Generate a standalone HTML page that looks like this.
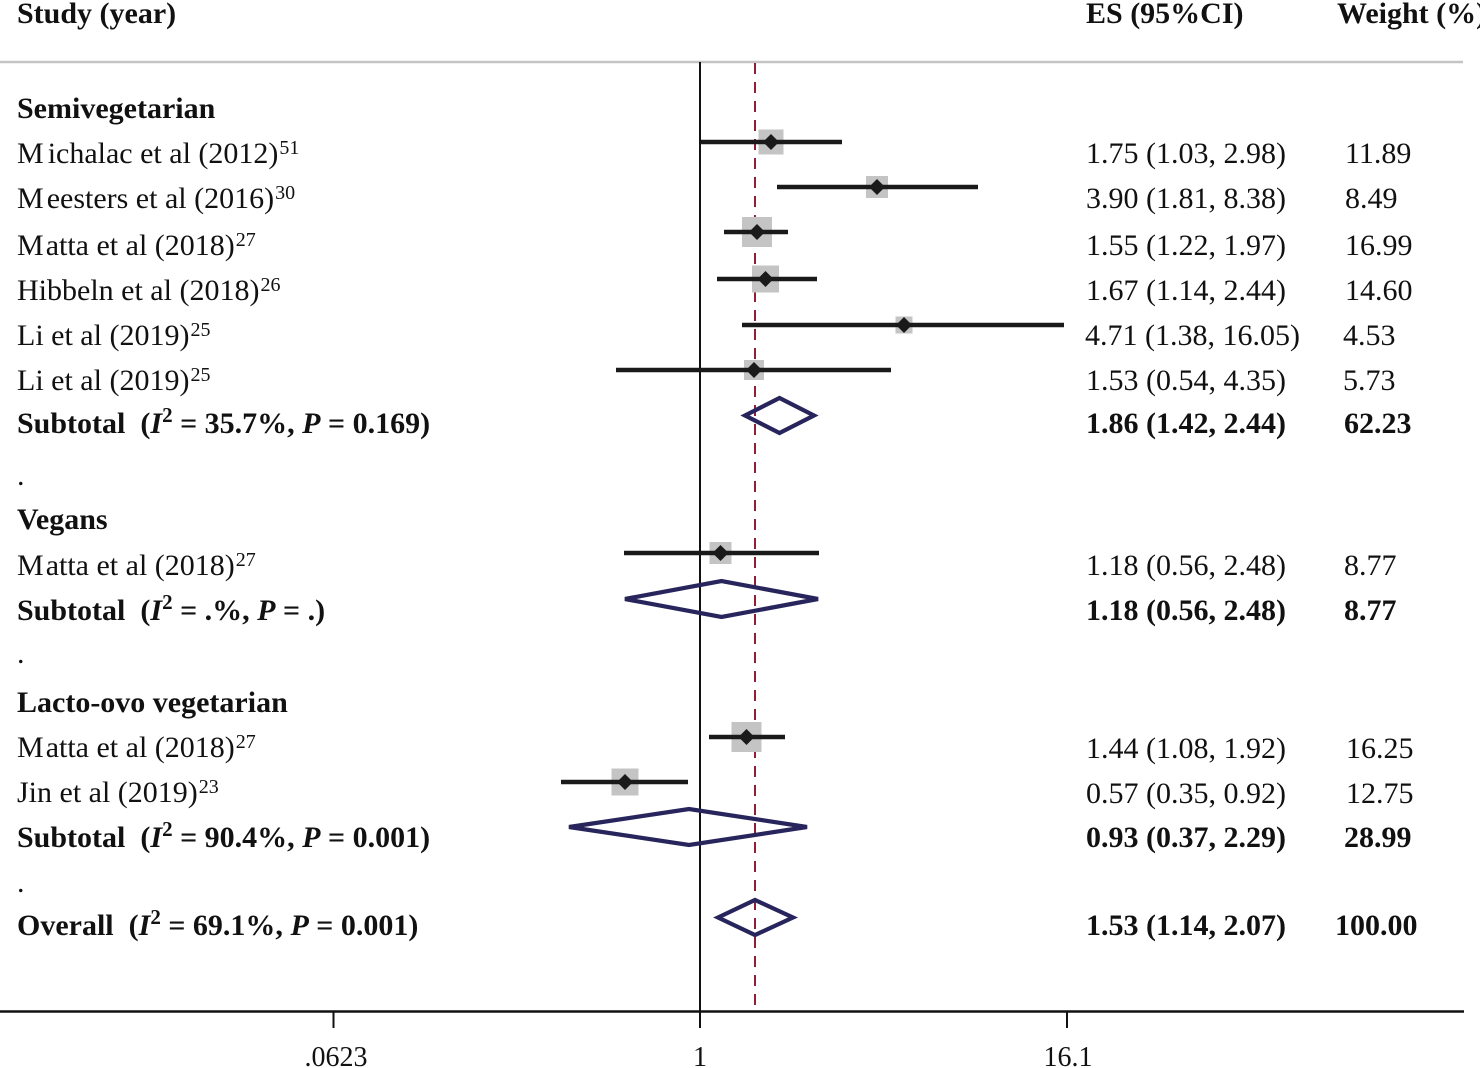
<!DOCTYPE html>
<html>
<head>
<meta charset="utf-8">
<style>
  html, body { margin: 0; padding: 0; background: #fff; }
  svg { display: block; }
  text { font-family: "Liberation Serif", "Times New Roman", serif; fill: #111; }
  .b { font-weight: bold; }
  .n { font-size: 30px; }
</style>
</head>
<body>
<svg width="1480" height="1068" viewBox="0 0 1480 1068" xmlns="http://www.w3.org/2000/svg">
  <rect width="1480" height="1068" fill="#fff"/>

  <!-- Headers -->
  <text x="17" y="23" class="n b">Study (year)</text>
  <text x="1086" y="23" class="n b">ES (95%CI)</text>
  <text x="1337" y="23" class="n b">Weight (%)</text>

  <!-- Top gray rule -->
  <line x1="0" y1="62" x2="1463" y2="62" stroke="#c4c4c4" stroke-width="2.5"/>

  <!-- Null line & pooled line -->
  <line x1="700" y1="62" x2="700" y2="1012" stroke="#111" stroke-width="2"/>
  <line x1="755" y1="63" x2="755" y2="1011" stroke="#8e1f35" stroke-width="2" stroke-dasharray="11 8"/>

  <!-- Axis -->
  <line x1="0" y1="1011.5" x2="1464" y2="1011.5" stroke="#111" stroke-width="2.5"/>
  <line x1="333.5" y1="1011" x2="333.5" y2="1028" stroke="#111" stroke-width="2"/>
  <line x1="700" y1="1011" x2="700" y2="1028" stroke="#111" stroke-width="2"/>
  <line x1="1067" y1="1011" x2="1067" y2="1028" stroke="#111" stroke-width="2"/>
  <text x="336" y="1066" font-size="28" text-anchor="middle">.0623</text>
  <text x="700" y="1066" font-size="28" text-anchor="middle">1</text>
  <text x="1068" y="1066" font-size="28" text-anchor="middle">16.1</text>

  <!-- Left labels -->
  <text x="17" y="118" class="n b">Semivegetarian</text>
  <text x="17" y="163" class="n">M<tspan dx="4">ichalac et al (2012)</tspan><tspan font-size="20" dy="-9" dx="1">51</tspan></text>
  <text x="17" y="208" class="n">M<tspan dx="3">eesters et al (2016)</tspan><tspan font-size="20" dy="-9" dx="1">30</tspan></text>
  <text x="17" y="255" class="n">M<tspan dx="2">atta et al (2018)</tspan><tspan font-size="20" dy="-9" dx="1">27</tspan></text>
  <text x="17" y="300" class="n">Hibbeln et al (2018)<tspan font-size="20" dy="-9" dx="1">26</tspan></text>
  <text x="17" y="345" class="n">Li et al (2019)<tspan font-size="20" dy="-9" dx="1">25</tspan></text>
  <text x="17" y="390" class="n">Li et al (2019)<tspan font-size="20" dy="-9" dx="1">25</tspan></text>
  <text x="17" y="433" class="n b">Subtotal<tspan dx="15">(</tspan><tspan font-style="italic">I</tspan><tspan font-size="21" dy="-11">2</tspan><tspan dy="11"> = 35.7%, </tspan><tspan font-style="italic">P</tspan> = 0.169)</text>
  <text x="17" y="485" class="n">.</text>
  <text x="17" y="529" class="n b">Vegans</text>
  <text x="17" y="575" class="n">M<tspan dx="2">atta et al (2018)</tspan><tspan font-size="20" dy="-9" dx="1">27</tspan></text>
  <text x="17" y="620" class="n b">Subtotal<tspan dx="15">(</tspan><tspan font-style="italic">I</tspan><tspan font-size="21" dy="-11">2</tspan><tspan dy="11"> = .%, </tspan><tspan font-style="italic">P</tspan> = .)</text>
  <text x="17" y="663" class="n">.</text>
  <text x="17" y="712" class="n b">Lacto-ovo vegetarian</text>
  <text x="17" y="757" class="n">M<tspan dx="2">atta et al (2018)</tspan><tspan font-size="20" dy="-9" dx="1">27</tspan></text>
  <text x="17" y="802" class="n">Jin et al (2019)<tspan font-size="20" dy="-9" dx="1">23</tspan></text>
  <text x="17" y="847" class="n b">Subtotal<tspan dx="15">(</tspan><tspan font-style="italic">I</tspan><tspan font-size="21" dy="-11">2</tspan><tspan dy="11"> = 90.4%, </tspan><tspan font-style="italic">P</tspan> = 0.001)</text>
  <text x="17" y="892" class="n">.</text>
  <text x="17" y="935" class="n b">Overall<tspan dx="15">(</tspan><tspan font-style="italic">I</tspan><tspan font-size="21" dy="-11">2</tspan><tspan dy="11"> = 69.1%, </tspan><tspan font-style="italic">P</tspan> = 0.001)</text>

  <!-- Right columns -->
  <text x="1086" y="163" class="n">1.75 (1.03, 2.98)</text><text x="1345" y="163" class="n">11.89</text>
  <text x="1086" y="208" class="n">3.90 (1.81, 8.38)</text><text x="1345" y="208" class="n">8.49</text>
  <text x="1086" y="255" class="n">1.55 (1.22, 1.97)</text><text x="1345" y="255" class="n">16.99</text>
  <text x="1086" y="300" class="n">1.67 (1.14, 2.44)</text><text x="1345" y="300" class="n">14.60</text>
  <text x="1085" y="345" class="n">4.71 (1.38, 16.05)</text><text x="1343" y="345" class="n">4.53</text>
  <text x="1086" y="390" class="n">1.53 (0.54, 4.35)</text><text x="1343" y="390" class="n">5.73</text>
  <text x="1086" y="433" class="n b">1.86 (1.42, 2.44)</text><text x="1344" y="433" class="n b">62.23</text>
  <text x="1086" y="575" class="n">1.18 (0.56, 2.48)</text><text x="1344" y="575" class="n">8.77</text>
  <text x="1086" y="620" class="n b">1.18 (0.56, 2.48)</text><text x="1344" y="620" class="n b">8.77</text>
  <text x="1086" y="758" class="n">1.44 (1.08, 1.92)</text><text x="1346" y="758" class="n">16.25</text>
  <text x="1086" y="803" class="n">0.57 (0.35, 0.92)</text><text x="1346" y="803" class="n">12.75</text>
  <text x="1086" y="847" class="n b">0.93 (0.37, 2.29)</text><text x="1344" y="847" class="n b">28.99</text>
  <text x="1086" y="935" class="n b">1.53 (1.14, 2.07)</text><text x="1335" y="935" class="n b">100.00</text>

  <!-- Study markers: gray squares -->
  <g fill="#c4c4c4">
    <rect x="758.5" y="129.5" width="25" height="25"/>
    <rect x="866" y="176" width="22" height="22"/>
    <rect x="742" y="217" width="30" height="30"/>
    <rect x="752" y="265.5" width="27" height="27"/>
    <rect x="895.5" y="316.5" width="17" height="17"/>
    <rect x="744" y="360" width="20" height="20"/>
    <rect x="709.5" y="542" width="22" height="22"/>
    <rect x="731.5" y="722" width="30" height="30"/>
    <rect x="611.5" y="768.5" width="27" height="27"/>
  </g>

  <!-- CI lines -->
  <g stroke="#1a1a1a" stroke-width="4.5">
    <line x1="701" y1="142" x2="842" y2="142"/>
    <line x1="777" y1="187" x2="978" y2="187"/>
    <line x1="724" y1="232" x2="788" y2="232"/>
    <line x1="717" y1="279" x2="817" y2="279"/>
    <line x1="742" y1="325" x2="1064" y2="325"/>
    <line x1="616" y1="370" x2="891" y2="370"/>
    <line x1="624" y1="553" x2="819" y2="553"/>
    <line x1="709" y1="737" x2="785" y2="737"/>
    <line x1="561" y1="782" x2="688" y2="782"/>
  </g>

  <!-- Point estimate diamonds (black) -->
  <g fill="#1a1a1a">
    <polygon points="771,134 779,142 771,150 763,142"/>
    <polygon points="877,179 885,187 877,195 869,187"/>
    <polygon points="757,224 765,232 757,240 749,232"/>
    <polygon points="765.5,271 773.5,279 765.5,287 757.5,279"/>
    <polygon points="904,317 912,325 904,333 896,325"/>
    <polygon points="754,362 762,370 754,378 746,370"/>
    <polygon points="720.5,545 728.5,553 720.5,561 712.5,553"/>
    <polygon points="746.5,729 754.5,737 746.5,745 738.5,737"/>
    <polygon points="625,774 633,782 625,790 617,782"/>
  </g>

  <!-- Pooled diamonds -->
  <g fill="none" stroke="#28245c" stroke-width="4.2" stroke-linejoin="miter">
    <polygon points="745,415.5 779.5,398 814,415.5 779.5,433"/>
    <polygon points="625,599 721.5,581 818,599 721.5,617"/>
    <polygon points="569,827 689,809 807,827 689,845"/>
    <polygon points="718,917.5 755,900 793,917.5 755,935"/>
  </g>
</svg>
</body>
</html>
